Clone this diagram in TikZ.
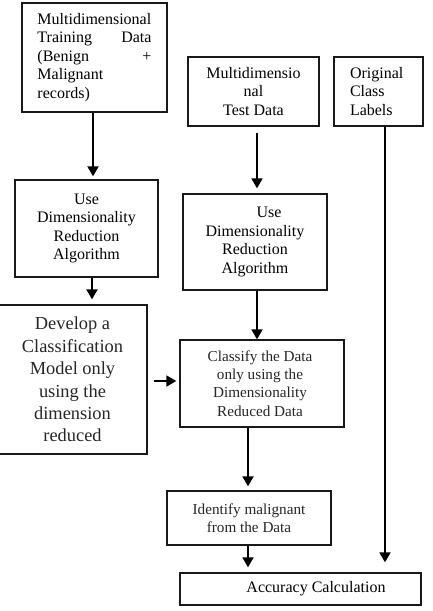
\documentclass[tikz,border=0pt]{standalone}
\usepackage{fontspec}
\setmainfont{Liberation Serif}
\usetikzlibrary{arrows.meta}
\tikzset{
  box/.style={draw=black!90, line width=1.3pt, inner sep=0pt, align=center},
  arr/.style={line width=1.8pt, -{Triangle[length=10pt,width=11pt]}},
  fA/.style={font={\fontsize{16}{18.6}\selectfont}},
  fG/.style={font={\fontsize{18.4}{22.4}\selectfont}, text=black!85},
  fC/.style={font={\fontsize{15.2}{18.4}\selectfont}, text=black!85},
}
\begin{document}
\begin{tikzpicture}[x=1pt,y=-1pt]
\useasboundingbox (0,0) rectangle (433,611);
% boxes
\node[box, fA, minimum width=145pt, minimum height=109pt, align=left] (train) at (94.5,57.5)
  {\makebox[114pt][l]{Multidimensional}\\ \makebox[114pt][s]{Training\hfill Data}\\ \makebox[114pt][s]{(Benign\hfill +}\\ \makebox[114pt][l]{Malignant}\\ \makebox[114pt][l]{records)}};
\node[box, fA, minimum width=131pt, minimum height=69pt] (test) at (253.5,91.5)
  {Multidimensio\\ nal\\ Test Data};
\node[box, fA, minimum width=89pt, minimum height=69pt, align=left] (labels) at (378.5,91.5)
  {\makebox[57pt][l]{Original}\\ Class\\ Labels};
\node[box, fA, minimum width=143pt, minimum height=97pt] (dra1) at (86.5,228.5)
  {Use\\ Dimensionality\\ Reduction\\ Algorithm};
\node[box, fA, minimum width=144pt, minimum height=96pt] (dra2) at (255,242)
  {\hspace*{28pt}Use\\ Dimensionality\\ Reduction\\ Algorithm};
\node[box, fG, minimum width=155pt, minimum height=149pt] (develop) at (69.5,379.5)
  {\hspace*{6pt}Develop a\\ \hspace*{6pt}Classification\\ \hspace*{6pt}Model only\\ \hspace*{6pt}using the\\ \hspace*{6pt}dimension\\ \hspace*{6pt}reduced};
\node[box, fC, minimum width=164pt, minimum height=87pt] (classify) at (262,383.5)
  {\hspace*{-4pt}Classify the Data\\ \hspace*{-4pt}only using the\\ \hspace*{-4pt}Dimensionality\\ \hspace*{-4pt}Reduced Data};
\node[box, fC, minimum width=164pt, minimum height=54pt] (identify) at (249,518)
  {Identify malignant\\ from the Data};
\node[box, fA, minimum width=241pt, minimum height=32pt] (accuracy) at (300.5,589)
  {\hspace*{31pt}Accuracy Calculation};
% arrow columns
\coordinate (c1) at (93,0);
\coordinate (c2) at (92,0);
\coordinate (c3) at (257,0);
\coordinate (c5) at (248,0);
\coordinate (c7) at (385,0);
\coordinate (r1) at (0,381);
% arrows
\draw[arr, shorten >=3pt] (c1 |- train.south) -- (c1 |- dra1.north);
\draw[arr, shorten >=5pt] (c2 |- dra1.south) -- (c2 |- develop.north);
\draw[arr, shorten <=6pt, shorten >=5pt] (c3 |- test.south) -- (c3 |- dra2.north);
\draw[arr] (c3 |- dra2.south) -- (c3 |- classify.north);
\draw[arr, shorten >=4pt] (c5 |- classify.south) -- (c5 |- identify.north);
\draw[arr, shorten >=5pt] (c5 |- identify.south) -- (c5 |- accuracy.north);
\draw[arr, shorten >=10pt] (c7 |- labels.south) -- (c7 |- accuracy.north);
\draw[arr, shorten <=6pt, shorten >=3pt] (r1 -| develop.east) -- (r1 -| classify.west);
\end{tikzpicture}
\end{document}
